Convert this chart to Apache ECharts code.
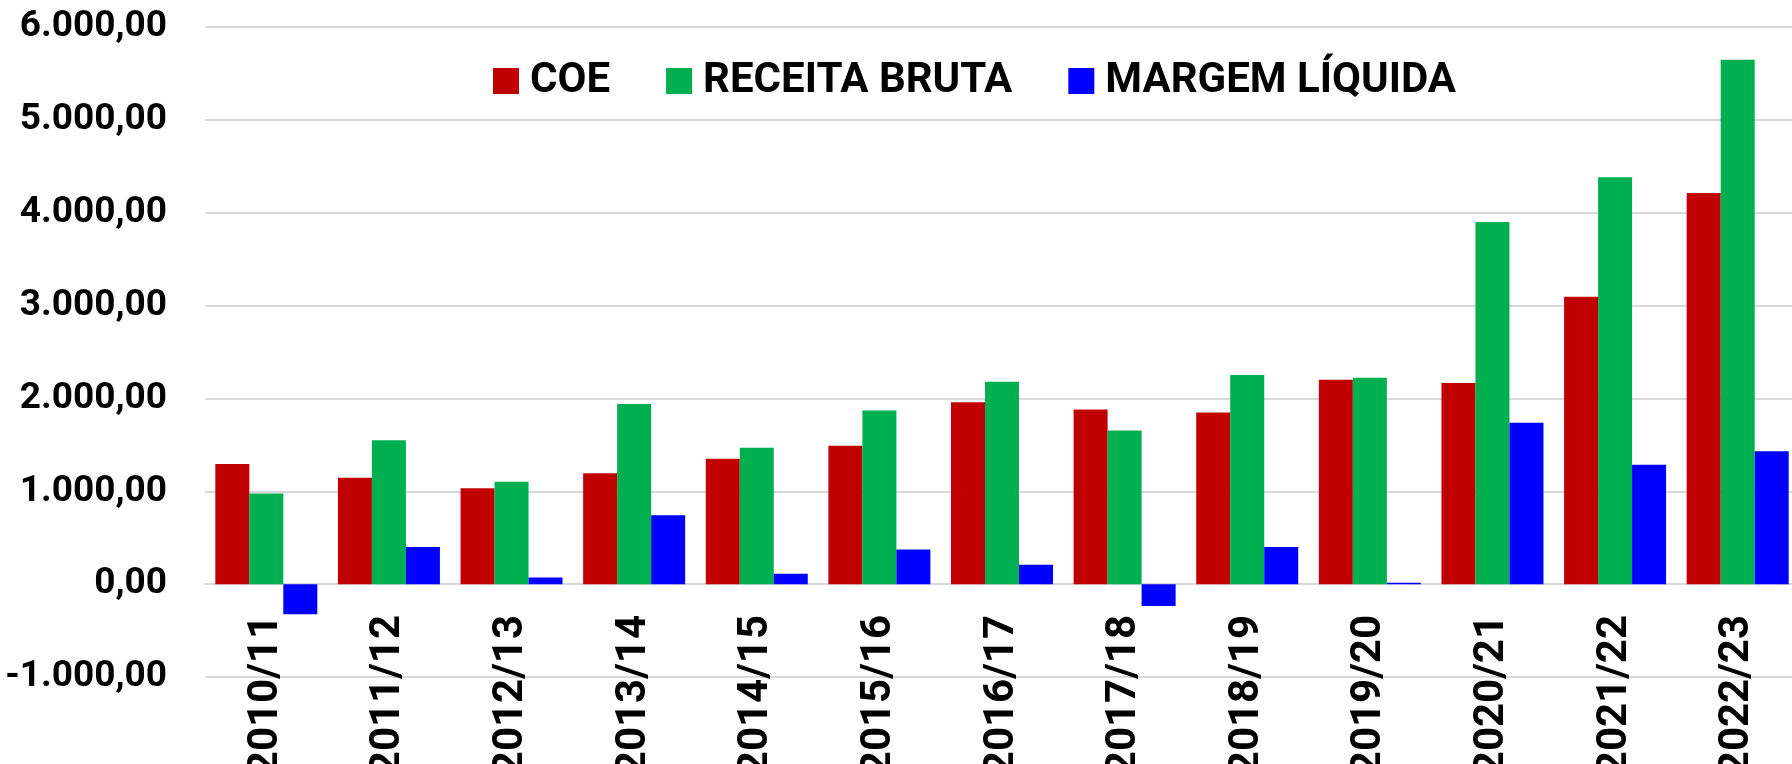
<!DOCTYPE html>
<html>
<head>
<meta charset="utf-8">
<script src="https://cdn.jsdelivr.net/npm/echarts@6/dist/echarts.min.js"></script>
<style>
  html, body { margin: 0; padding: 0; background: #fff; }
  #chart { width: 1792px; height: 764px; }
</style>
</head>
<body>
<div id="chart"></div>
<script>
// safras
var categories = ["2010/11", "2011/12", "2012/13", "2013/14", "2014/15", "2015/16", "2016/17",
  "2017/18", "2018/19", "2019/20", "2020/21", "2021/22", "2022/23"];
// R$
var coe = [1295, 1147, 1032, 1194, 1350, 1490, 1960, 1881, 1849, 2201, 2165, 3094, 4212];
var receitaBruta = [975, 1550, 1104, 1940, 1469, 1870, 2180, 1655, 2251, 2223, 3899, 4381, 5647];
var margemLiquida = [-325, 400, 72, 743, 112, 372, 210, -236, 400, 14, 1737, 1286, 1430];

var seriesNames = ["COE", "RECEITA BRUTA", "MARGEM LÍQUIDA"];
var colors = ["#c00000", "#00b050", "#0000ff"];

// formato pt-BR: 6.000,00
function fmtBR(v) {
  var neg = v < 0;
  var s = Math.abs(v).toFixed(2).split(".");
  var inteiro = s[0].replace(/\B(?=(\d{3})+(?!\d))/g, ".");
  return (neg ? "-" : "") + inteiro + "," + s[1];
}

var myChart = echarts.init(document.getElementById("chart"));
var gridColor = "#d9d9d9";

var option = {
  animation: false,
  color: colors,
  textStyle: { fontFamily: "Roboto", fontWeight: "bold", color: "#000" },
  legend: {
    data: seriesNames,
    left: 488,
    top: 55,
    icon: "rect",
    itemWidth: 26,
    itemHeight: 26,
    itemGap: 56,
    textStyle: {
      fontFamily: "Roboto",
      fontWeight: "bold",
      fontSize: 42,
      color: "#000",
      padding: [0, 0, 0, 6]
    }
  },
  grid: {
    left: 205,
    top: 27,
    width: 1594,
    bottom: 87,
    containLabel: false,
    outerBoundsMode: "none"
  },
  xAxis: {
    type: "category",
    data: categories,
    axisLine: { onZero: true, lineStyle: { color: gridColor, width: 2 } },
    axisTick: { show: false },
    axisLabel: {
      rotate: 90,
      // rotulos ficam logo abaixo da linha do zero
      margin: -62,
      interval: 0,
      fontFamily: "Roboto",
      fontWeight: "bold",
      fontSize: 42,
      color: "#000"
    }
  },
  yAxis: {
    type: "value",
    min: -1000,
    max: 6000,
    interval: 1000,
    axisLine: { show: false },
    axisTick: { show: false },
    splitLine: { lineStyle: { color: gridColor, width: 2 } },
    axisLabel: {
      margin: 38,
      fontFamily: "Roboto",
      fontWeight: "bold",
      fontSize: 37,
      color: "#000",
      formatter: fmtBR
    }
  },
  series: [
    { name: seriesNames[0], type: "bar", data: coe, barWidth: 34, barGap: "0%" },
    { name: seriesNames[1], type: "bar", data: receitaBruta, barWidth: 34, barGap: "0%" },
    { name: seriesNames[2], type: "bar", data: margemLiquida, barWidth: 34, barGap: "0%" }
  ]
};

myChart.setOption(option);
window.addEventListener("resize", function () {
  myChart.resize();
});
</script>
</body>
</html>
